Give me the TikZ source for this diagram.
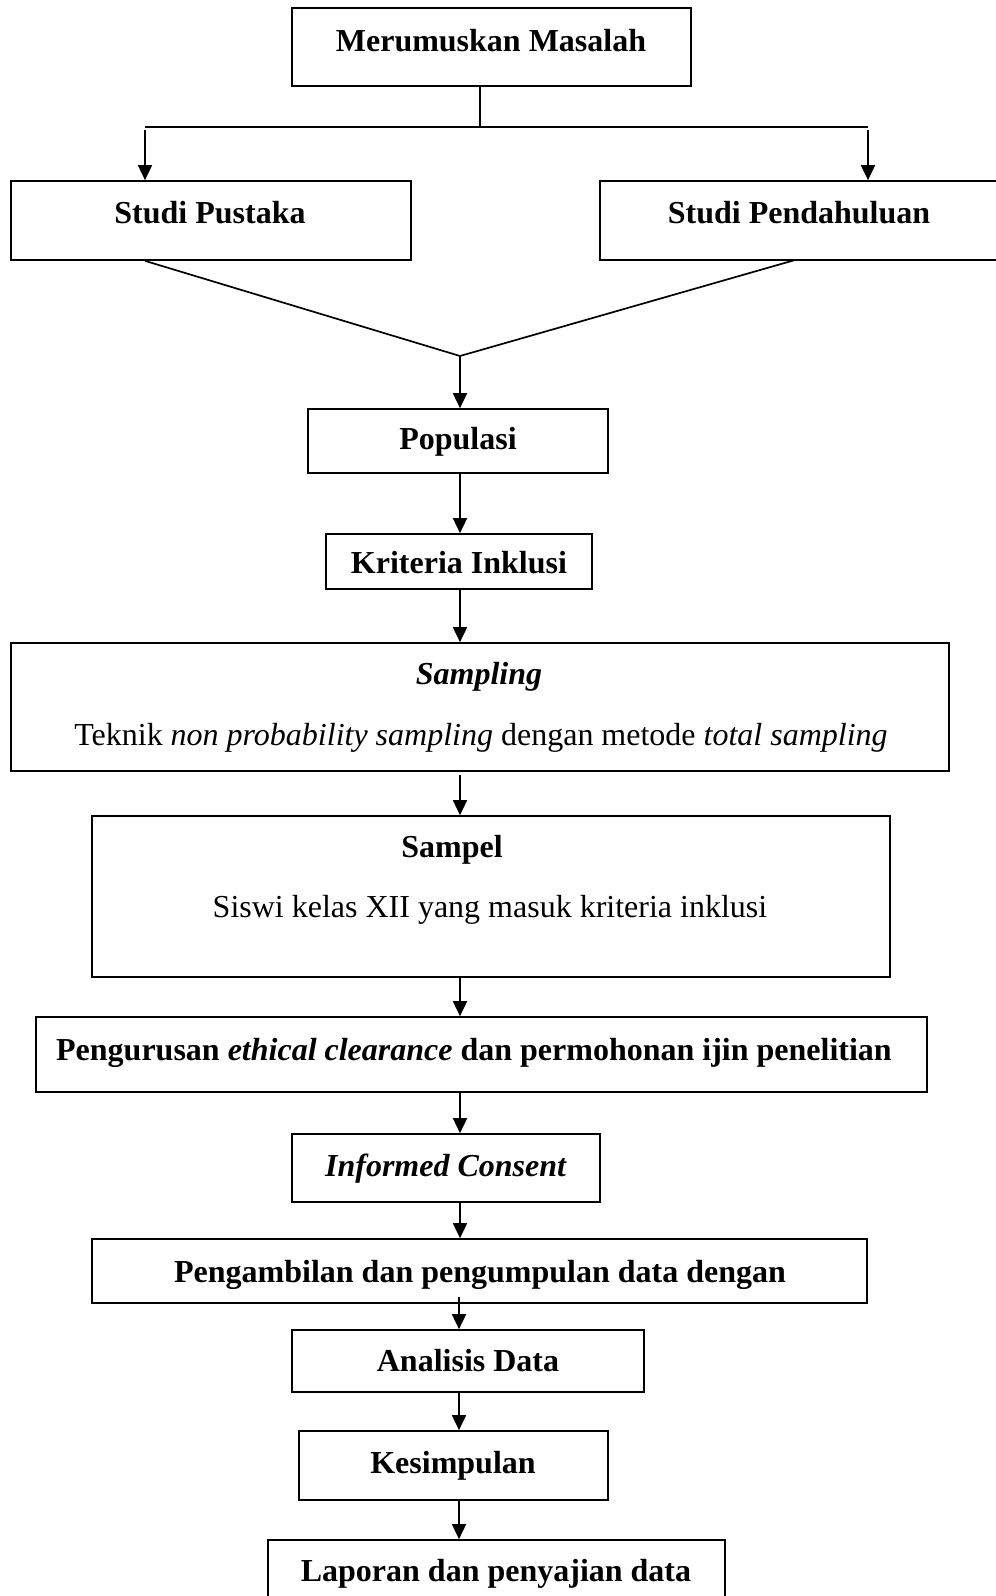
\documentclass[tikz,border=0pt]{standalone}
\usepackage{fontspec}
\setmainfont{Liberation Serif}
\usetikzlibrary{arrows.meta,fit}
\tikzset{
  boxst/.style={draw=black, line width=1.7pt, inner sep=0pt, rectangle},
  txt/.style={anchor=base, inner sep=0pt, font=\fontsize{32}{38}\selectfont},
  conn/.style={line width=1.7pt},
  arr/.style={line width=1.7pt, -{Triangle[length=15pt,width=14pt]}}
}
\newcommand\mybox[5]{\node[boxst, fit={(#2,#3) (#4,#5)}] (#1) {};}
\begin{document}
\begin{tikzpicture}[x=1pt,y=-1pt]
\clip (0,0) rectangle (996,1596);
\useasboundingbox (0,0) rectangle (996,1596);
\fill[white] (0,0) rectangle (996,1596);
% boxes
\mybox{top}{292}{8}{691}{86}
\mybox{sp}{11}{181}{411}{260}
\mybox{spd}{600}{181}{1000}{260}
\mybox{pop}{308}{409}{608}{473}
\mybox{krit}{326}{534}{592}{589}
\mybox{samp}{11}{643}{949}{771}
\mybox{sampel}{92}{816}{890}{977}
\mybox{peng}{36}{1017}{927}{1092}
\mybox{inf}{292}{1134}{600}{1202}
\mybox{ambil}{92}{1239}{867}{1303}
\mybox{anal}{292}{1330}{644}{1392}
\mybox{kes}{299}{1431}{608}{1500}
\mybox{lap}{268}{1540}{725}{1620}
% texts
\node[txt] (ttop) at (491,51) {\textbf{Merumuskan Masalah}};
\node[txt] (tsp) at (210,223) {\textbf{Studi Pustaka}};
\node[txt] (tspd) at (799,223) {\textbf{Studi Pendahuluan}};
\node[txt] (tpop) at (458,449) {\textbf{Populasi}};
\node[txt] (tkrit) at (459,573) {\textbf{Kriteria Inklusi}};
\node[txt] (tsamp1) at (479,684) {\textbf{\textit{Sampling}}};
\node[txt] (tsamp2) at (481,745) {Teknik \textit{non probability sampling} dengan metode \textit{total sampling}};
\node[txt] (tsampel1) at (452,857) {\textbf{Sampel}};
\node[txt] (tsampel2) at (490,917) {Siswi kelas XII yang masuk kriteria inklusi};
\node[txt] (tpeng) at (474,1060) {\textbf{Pengurusan \textit{ethical clearance} dan permohonan ijin penelitian}};
\node[txt] (tinf) at (446,1176) {\textbf{\textit{Informed Consent}}};
\node[txt] (tambil) at (480,1282) {\textbf{Pengambilan dan pengumpulan data dengan}};
\node[txt] (tanal) at (468,1371) {\textbf{Analisis Data}};
\node[txt] (tkes) at (453,1473) {\textbf{Kesimpulan}};
\node[txt] (tlap) at (496,1581) {\textbf{Laporan dan penyajian data}};
% helper coordinates
\coordinate (jtop) at (480,127);
\coordinate (hL) at (145,127);
\coordinate (hR) at (868,127);
\coordinate (hLs) at (145,130);
\coordinate (hRs) at (868,130);
\coordinate (vR) at (795,260);
\coordinate (vee) at (460,356);
\coordinate (spine) at (460,0);
\coordinate (spine2) at (459,0);
\coordinate (sampout) at (460,775);
\coordinate (ambout) at (459,1297);
% connectors
\draw[conn] (top.south -| jtop) -- (jtop);
\draw[conn] (hL) -- (hR);
\draw[arr] (hLs) -- (sp.north -| hL);
\draw[arr] (hRs) -- (spd.north -| hR);
\draw[conn] (sp.south -| hL) -- (vee) -- (vR);
\draw[arr] (vee) -- (pop.north -| spine);
\draw[arr] (pop.south -| spine) -- (krit.north -| spine);
\draw[arr] (krit.south -| spine) -- (samp.north -| spine);
\draw[arr] (sampout) -- (sampel.north -| spine);
\draw[arr] (sampel.south -| spine) -- (peng.north -| spine);
\draw[arr] (peng.south -| spine) -- (inf.north -| spine);
\draw[arr] (inf.south -| spine) -- (ambil.north -| spine);
\draw[arr] (ambout) -- (anal.north -| spine2);
\draw[arr] (anal.south -| spine2) -- (kes.north -| spine2);
\draw[arr] (kes.south -| spine2) -- (lap.north -| spine2);
\end{tikzpicture}
\end{document}
